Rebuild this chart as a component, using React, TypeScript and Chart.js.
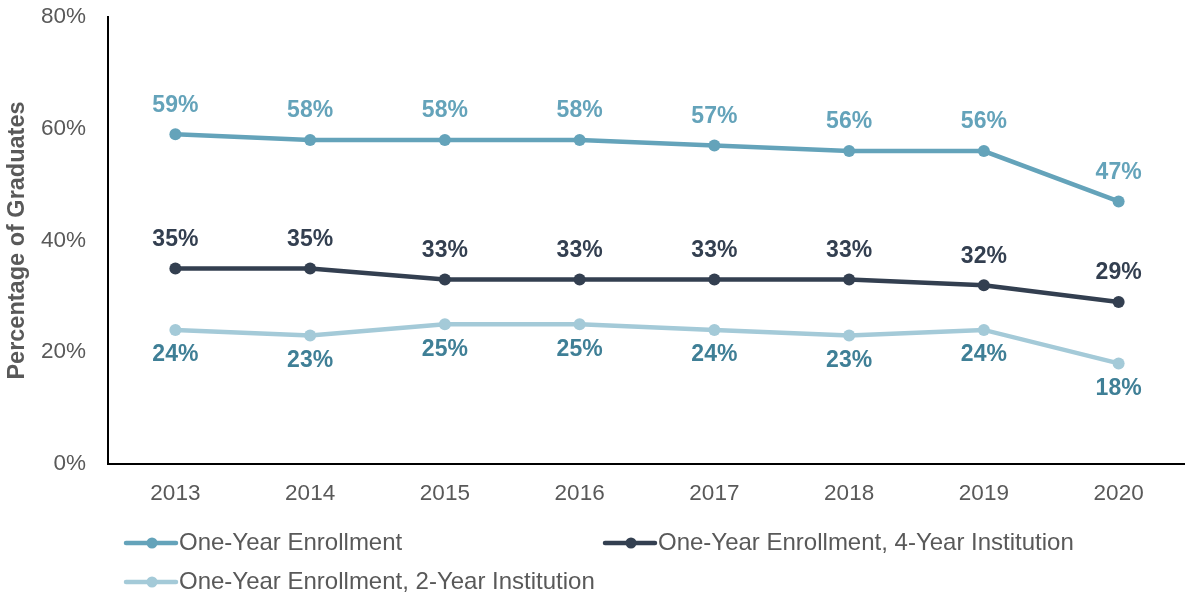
import React, { useEffect, useRef } from "react";
import { Chart, registerables } from "chart.js";

Chart.register(...registerables);

const years = ["2013", "2014", "2015", "2016", "2017", "2018", "2019", "2020"];
const oneYear = [59, 58, 58, 58, 57, 56, 56, 47];
const fourYear = [35, 35, 33, 33, 33, 33, 32, 29];
const twoYear = [24, 23, 25, 25, 24, 23, 24, 18];
const seriesNames = [
  "One-Year Enrollment",
  "One-Year Enrollment, 4-Year Institution",
  "One-Year Enrollment, 2-Year Institution",
];
const lineColors = ["#64A3BA", "#333F50", "#A4CAD8"];
const labelColors = ["#64A3BA", "#333F50", "#3F7F96"];
const yTicks = [0, 20, 40, 60, 80];

const FONT = "'Liberation Sans', Arial, sans-serif";
const GRAY = "#595959";

const dataLabelPlugin = {
  id: "dataLabels",
  afterDatasetsDraw(chart: any) {
    const ctx = chart.ctx;
    ctx.save();
    ctx.font = `bold 23px ${FONT}`;
    ctx.textAlign = "center";
    ctx.textBaseline = "middle";
    chart.data.datasets.forEach((ds: any, i: number) => {
      const meta = chart.getDatasetMeta(i);
      meta.data.forEach((pt: any, j: number) => {
        const dy = i === 2 ? 25 : -29;
        ctx.fillStyle = labelColors[i];
        ctx.fillText(`${ds.data[j]}%`, pt.x, pt.y + dy);
      });
    });
    ctx.restore();
  },
};

const legendPlugin = {
  id: "customLegend",
  afterDraw(chart: any) {
    const ctx = chart.ctx;
    const spots = [
      { x: 126, y: 543 },
      { x: 605, y: 543 },
      { x: 126, y: 582 },
    ];
    ctx.save();
    chart.data.datasets.forEach((ds: any, i: number) => {
      const { x, y } = spots[i];
      ctx.strokeStyle = ds.borderColor;
      ctx.lineWidth = 4.5;
      ctx.lineCap = "round";
      ctx.beginPath();
      ctx.moveTo(x, y);
      ctx.lineTo(x + 50, y);
      ctx.stroke();
      ctx.fillStyle = ds.borderColor;
      ctx.beginPath();
      ctx.arc(x + 26, y, 5.5, 0, Math.PI * 2);
      ctx.fill();
      ctx.fillStyle = GRAY;
      ctx.font = `24px ${FONT}`;
      ctx.textAlign = "left";
      ctx.textBaseline = "middle";
      ctx.fillText(ds.label, x + 53, y);
    });
    ctx.restore();
  },
};

export default function App() {
  const ref = useRef<HTMLCanvasElement>(null);

  useEffect(() => {
    if (!ref.current) return;
    const mk = (data: number[], i: number) => ({
      label: seriesNames[i],
      data,
      borderColor: lineColors[i],
      backgroundColor: lineColors[i],
      pointBackgroundColor: lineColors[i],
      pointBorderColor: lineColors[i],
      borderWidth: 4.5,
      pointRadius: 6,
      pointBorderWidth: 0,
      tension: 0,
    });
    const chart = new Chart(ref.current, {
      type: "line",
      data: {
        labels: years,
        datasets: [mk(oneYear, 0), mk(fourYear, 1), mk(twoYear, 2)],
      },
      options: {
        responsive: false,
        animation: false,
        layout: { padding: { top: 17, left: 0, right: 0, bottom: 0 } },
        plugins: {
          legend: { display: false },
          tooltip: { enabled: false },
        },
        scales: {
          x: {
            type: "category",
            offset: true,
            grid: { display: false, drawTicks: false },
            border: { display: true, color: "#000", width: 2 },
            ticks: {
              color: GRAY,
              font: { family: FONT, size: 22.5 },
              padding: 16,
            },
            afterFit(s: any) {
              s.height = 133;
              s.paddingLeft = 0;
              s.paddingRight = 0;
            },
          },
          y: {
            min: 0,
            max: 80,
            afterBuildTicks(s: any) {
              s.ticks = yTicks.map((v) => ({ value: v }));
            },
            grid: { display: false, drawTicks: false },
            border: { display: true, color: "#000", width: 2 },
            ticks: {
              color: GRAY,
              font: { family: FONT, size: 22.5 },
              padding: 22,
              callback: (v: any) => `${v}%`,
            },
            title: {
              display: true,
              text: "Percentage of Graduates",
              color: GRAY,
              font: { family: FONT, size: 23.5, weight: "bold" },
              padding: { top: 3, bottom: 0 },
            },
            afterFit(s: any) {
              s.width = 108;
              s.paddingTop = 0;
              s.paddingBottom = 0;
            },
          },
        },
      },
      plugins: [dataLabelPlugin, legendPlugin],
    });
    return () => chart.destroy();
  }, []);

  return (
    <div
      style={{
        position: "fixed",
        left: 0,
        top: 0,
        width: 1185,
        height: 597,
        overflow: "hidden",
        background: "#fff",
      }}
    >
      <canvas ref={ref} width={1192} height={597} style={{ display: "block" }} />
    </div>
  );
}
